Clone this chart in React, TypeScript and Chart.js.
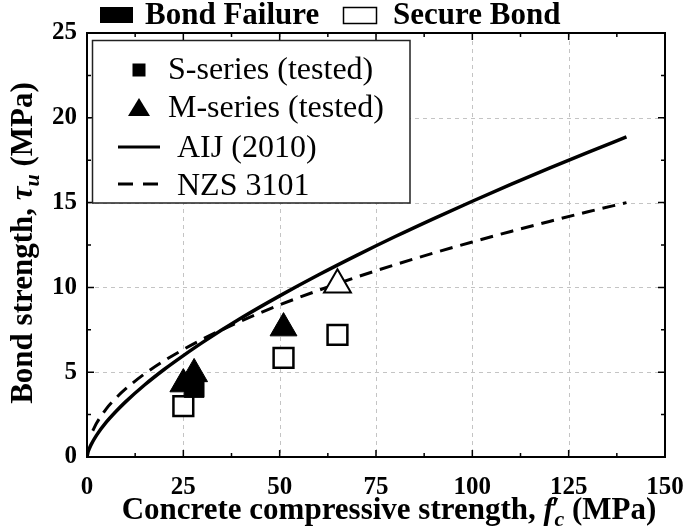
import { useEffect, useRef } from 'react';
import { Chart, registerables } from 'chart.js';

Chart.register(...registerables);

// ---- data ----
const xTickValues = [0, 25, 50, 75, 100, 125, 150];
const yTickValues = [0, 5, 10, 15, 20, 25];

// Bond failure (filled markers)
const sFailX = [27.8];
const sFailY = [4.1];
const mFailX = [25, 27.8, 51];
const mFailY = [4.3, 4.9, 7.6];

// Secure bond (open markers)
const sSecureX = [25, 51, 65];
const sSecureY = [3.0, 5.85, 7.2];
const mSecureX = [65];
const mSecureY = [10.15];

// AIJ (2010) curve
const aijX = [0, 0.25, 0.5, 1, 2.5, 5, 7.5, 10, 15, 20, 25, 30, 40, 50, 60, 70, 80, 90, 100, 110, 120, 130, 140];
const aijY = [0, 0.28, 0.44, 0.7, 1.29, 2.05, 2.68, 3.25, 4.26, 5.16, 5.98, 6.76, 8.19, 9.5, 10.73, 11.89, 13.0, 14.06, 15.08, 16.07, 17.03, 17.96, 18.87];

// NZS 3101 curve
const nzsX = [1.5, 2.5, 5, 7.5, 10, 15, 20, 25, 30, 35, 40, 50, 60, 70, 80, 90, 100, 110, 120, 130, 140];
const nzsY = [1.55, 2.0, 2.84, 3.47, 4.01, 4.91, 5.67, 6.34, 6.95, 7.5, 8.02, 8.97, 9.82, 10.61, 11.34, 12.03, 12.68, 13.3, 13.89, 14.46, 15.0];

const legendLabels = ['S-series (tested)', 'M-series (tested)', 'AIJ (2010)', 'NZS 3101'];
const topLegendLabels = ['Bond Failure', 'Secure Bond'];

const zip = (xs: number[], ys: number[]) => xs.map((x, i) => ({ x, y: ys[i] }));

const SERIF = '"Liberation Serif", "Times New Roman", serif';
const X_MINOR = 12.5;
const Y_MINOR = 2.5;

type Part = { t: string; f: string; dy: number; adv?: number };

function drawParts(ctx: CanvasRenderingContext2D, parts: Part[], startX: number, baseline: number) {
  let x = startX;
  for (const p of parts) {
    ctx.font = p.f;
    ctx.fillText(p.t, x, baseline + p.dy);
    x += p.adv !== undefined ? p.adv : ctx.measureText(p.t).width;
  }
  return x - startX;
}

function measureParts(ctx: CanvasRenderingContext2D, parts: Part[]) {
  let w = 0;
  for (const p of parts) {
    ctx.font = p.f;
    w += p.adv !== undefined ? p.adv : ctx.measureText(p.t).width;
  }
  return w;
}

const framePlugin = {
  id: 'frame',
  beforeDatasetsDraw(chart: any) {
    const { ctx, chartArea, scales } = chart;
    const { left, right, top, bottom } = chartArea;
    ctx.save();
    ctx.strokeStyle = '#c4c4c4';
    ctx.lineWidth = 1;
    ctx.setLineDash([4, 4]);
    for (const v of xTickValues) {
      if (v <= 0 || v >= 150) continue;
      const px = Math.round(scales.x.getPixelForValue(v)) + 0.5;
      ctx.beginPath();
      ctx.moveTo(px, top);
      ctx.lineTo(px, bottom);
      ctx.stroke();
    }
    for (const v of yTickValues) {
      if (v <= 0 || v >= 25) continue;
      const py = Math.round(scales.y.getPixelForValue(v)) + 0.5;
      ctx.beginPath();
      ctx.moveTo(left, py);
      ctx.lineTo(right, py);
      ctx.stroke();
    }
    ctx.restore();
  },
  afterDatasetsDraw(chart: any) {
    const { ctx, chartArea, scales } = chart;
    const { left, right, top, bottom } = chartArea;
    ctx.save();
    ctx.setLineDash([]);
    ctx.strokeStyle = '#000';
    ctx.fillStyle = '#000';
    // ticks
    ctx.lineWidth = 1.5;
    for (let v = 0; v <= 150; v += X_MINOR) {
      const px = scales.x.getPixelForValue(v);
      const len = v % 25 === 0 ? 7 : 4;
      ctx.beginPath();
      ctx.moveTo(px, bottom);
      ctx.lineTo(px, bottom - len);
      ctx.moveTo(px, top);
      ctx.lineTo(px, top + len);
      ctx.stroke();
    }
    for (let v = 0; v <= 25; v += Y_MINOR) {
      const py = scales.y.getPixelForValue(v);
      const len = v % 5 === 0 ? 7 : 4;
      ctx.beginPath();
      ctx.moveTo(left, py);
      ctx.lineTo(left + len, py);
      ctx.moveTo(right, py);
      ctx.lineTo(right - len, py);
      ctx.stroke();
    }
    // frame
    ctx.lineWidth = 2;
    ctx.strokeRect(left, top, right - left, bottom - top);

    // inner legend
    const bx = 92.5, by = 40.5, bw = 317.5, bh = 162.5;
    ctx.fillStyle = '#fff';
    ctx.fillRect(bx, by, bw, bh);
    ctx.lineWidth = 1.5;
    ctx.strokeStyle = '#222';
    ctx.strokeRect(bx, by, bw, bh);
    ctx.fillStyle = '#000';
    ctx.strokeStyle = '#000';
    // square
    ctx.fillRect(139 - 6.5, 70 - 6.5, 13, 13);
    // triangle
    ctx.beginPath();
    ctx.moveTo(139, 98);
    ctx.lineTo(150, 116);
    ctx.lineTo(128, 116);
    ctx.closePath();
    ctx.fill();
    // solid line
    ctx.lineWidth = 3;
    ctx.beginPath();
    ctx.moveTo(118, 147);
    ctx.lineTo(160, 147);
    ctx.stroke();
    // dashed
    ctx.beginPath();
    ctx.moveTo(118, 184);
    ctx.lineTo(133, 184);
    ctx.moveTo(143, 184);
    ctx.lineTo(158, 184);
    ctx.stroke();
    ctx.font = `32px ${SERIF}`;
    ctx.textBaseline = 'alphabetic';
    ctx.textAlign = 'left';
    ctx.fillText(legendLabels[0], 168, 79);
    ctx.fillText(legendLabels[1], 168, 117);
    ctx.fillText(legendLabels[2], 177, 157);
    ctx.fillText(legendLabels[3], 177, 195);
    ctx.restore();
  },
  afterDraw(chart: any) {
    const { ctx } = chart;
    ctx.save();
    ctx.fillStyle = '#000';
    ctx.strokeStyle = '#000';
    ctx.textAlign = 'left';
    ctx.textBaseline = 'alphabetic';
    // top legend
    ctx.fillRect(100, 7, 33, 16);
    ctx.lineWidth = 1.5;
    ctx.strokeRect(343.5, 7.5, 33, 16);
    ctx.font = `bold 31px ${SERIF}`;
    ctx.fillText(topLegendLabels[0], 145, 24);
    ctx.fillText(topLegendLabels[1], 393, 24);

    // x title
    const fs = 31;
    const xParts: Part[] = [
      { t: 'Concrete compressive strength, ', f: `bold ${fs}px ${SERIF}`, dy: 0 },
      { t: 'f', f: `italic bold ${fs}px ${SERIF}`, dy: 0, adv: 8 },
      { t: '′', f: `bold ${fs}px ${SERIF}`, dy: 0, adv: 3 },
      { t: 'c', f: `italic bold 22px ${SERIF}`, dy: 7 },
      { t: ' (MPa)', f: `bold ${fs}px ${SERIF}`, dy: 0 },
    ];
    const xw = measureParts(ctx, xParts);
    drawParts(ctx, xParts, 389 - xw / 2, 519);

    // y title
    const yParts: Part[] = [
      { t: 'Bond strength, ', f: `bold ${fs}px ${SERIF}`, dy: 0 },
      { t: 'τ', f: `italic bold ${fs}px ${SERIF}`, dy: 0 },
      { t: 'u', f: `italic bold 22px ${SERIF}`, dy: 7 },
      { t: ' (MPa)', f: `bold ${fs}px ${SERIF}`, dy: 0 },
    ];
    const yw = measureParts(ctx, yParts);
    ctx.translate(32, 243);
    ctx.rotate(-Math.PI / 2);
    drawParts(ctx, yParts, -yw / 2, 0);
    ctx.restore();
  },
};

export default function App() {
  const ref = useRef<HTMLCanvasElement>(null);
  useEffect(() => {
    document.body.style.margin = '0';
    const tickFont = { family: SERIF, size: 25, weight: 'bold' as const };
    const chart = new Chart(ref.current!, {
      type: 'scatter',
      data: {
        datasets: [
          {
            label: 'S-series bond failure',
            data: zip(sFailX, sFailY),
            pointStyle: 'rect',
            pointRadius: 14,
            backgroundColor: '#000',
            borderColor: '#000',
            borderWidth: 1,
          },
          {
            label: 'M-series bond failure',
            data: zip(mFailX, mFailY),
            pointStyle: 'triangle',
            pointRadius: 15.5,
            backgroundColor: '#000',
            borderColor: '#000',
            borderWidth: 1,
          },
          {
            label: 'S-series secure bond',
            data: zip(sSecureX, sSecureY),
            pointStyle: 'rect',
            pointRadius: 14,
            backgroundColor: '#fff',
            borderColor: '#000',
            borderWidth: 2.5,
          },
          {
            label: 'M-series secure bond',
            data: zip(mSecureX, mSecureY),
            pointStyle: 'triangle',
            pointRadius: 15.5,
            backgroundColor: '#fff',
            borderColor: '#000',
            borderWidth: 2,
          },
          {
            label: 'AIJ (2010)',
            data: zip(aijX, aijY),
            showLine: true,
            pointRadius: 0,
            borderColor: '#000',
            borderWidth: 3.5,
            cubicInterpolationMode: 'monotone',
          },
          {
            label: 'NZS 3101',
            data: zip(nzsX, nzsY),
            showLine: true,
            pointRadius: 0,
            borderColor: '#000',
            borderWidth: 3,
            borderDash: [13, 8],
            cubicInterpolationMode: 'monotone',
          },
        ],
      },
      options: {
        responsive: false,
        animation: false,
        events: [],
        layout: { padding: { top: 33, right: 20, left: 0, bottom: 0 } },
        plugins: { legend: { display: false }, tooltip: { enabled: false } },
        scales: {
          x: {
            type: 'linear',
            min: 0,
            max: 150,
            ticks: { stepSize: 25, font: tickFont, color: '#000', padding: 16, maxRotation: 0 },
            grid: { display: false, drawTicks: false },
            border: { display: false },
            afterFit: (s: any) => {
              s.height = 72;
              s.paddingLeft = 0;
              s.paddingRight = 0;
            },
          },
          y: {
            type: 'linear',
            min: 0,
            max: 25,
            ticks: { stepSize: 5, font: tickFont, color: '#000', padding: 10 },
            grid: { display: false, drawTicks: false },
            border: { display: false },
            afterFit: (s: any) => {
              s.width = 87;
              s.paddingTop = 0;
              s.paddingBottom = 0;
            },
          },
        },
      },
      plugins: [framePlugin],
    } as any);
    return () => chart.destroy();
  }, []);
  return (
    <div style={{ position: 'absolute', left: 0, top: 0, width: 685, height: 529 }}>
      <canvas ref={ref} width={685} height={529} />
    </div>
  );
}
